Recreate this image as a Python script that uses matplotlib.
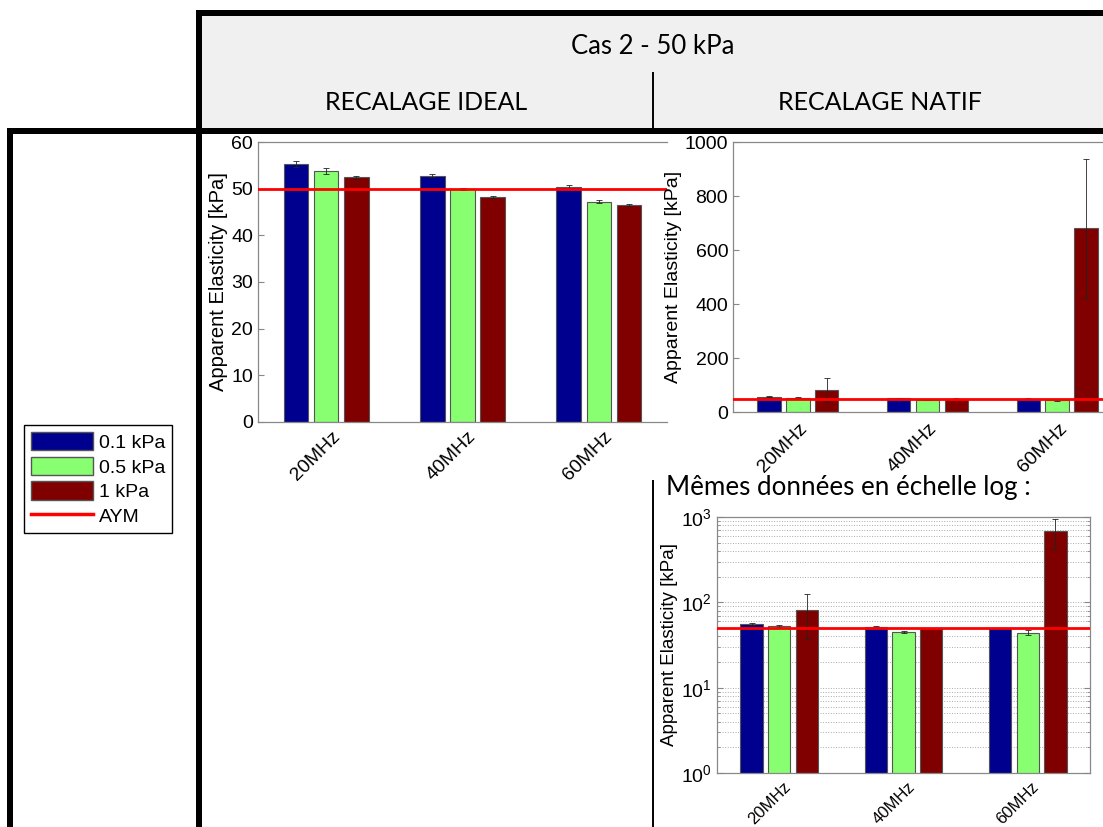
import numpy as np
import matplotlib
matplotlib.use("Agg")
import matplotlib.pyplot as plt
from matplotlib.patches import Patch, Rectangle
from matplotlib.lines import Line2D
from matplotlib.transforms import ScaledTranslation

# ---- data ----
freqs = ['20MHz', '40MHz', '60MHz']
series = ['0.1 kPa', '0.5 kPa', '1 kPa']
colors = ['#00008f', '#88ff70', '#800000']
aym = 50.0

# recalage ideal
ideal_mean = [[55.3, 52.8, 50.3],
              [53.8, 50.0, 47.2],
              [52.4, 48.2, 46.5]]
ideal_err = [[0.6, 0.3, 0.4],
             [0.6, 0.2, 0.3],
             [0.3, 0.2, 0.3]]

# recalage natif
natif_mean = [[56, 52, 50],
              [53, 45, 44],
              [81, 50, 680]]
natif_err = [[2, 0.5, 0.5],
             [1, 1, 3],
             [44, 0.5, 258]]

W, H = 1103, 827
fig = plt.figure(figsize=(W / 100, H / 100), dpi=100)
plt.rcParams['font.family'] = ['Liberation Sans', 'DejaVu Sans']


def fx(x):
    return x / W


def fy(y):
    return 1 - y / H


def add_ax(left, top, right, bottom):
    return fig.add_axes([fx(left), fy(bottom), (right - left) / W, (bottom - top) / H])


def bar_chart(ax, means, errs, label_dx, label_dy, ylab_size, lab_size=14):
    x = np.arange(1, len(freqs) + 1)
    offsets = [-0.222, 0.0, 0.222]
    for i in range(len(series)):
        ax.bar(x + offsets[i], means[i], width=0.18, color=colors[i],
               edgecolor='#555555', linewidth=0.8, zorder=2)
        ax.errorbar(x + offsets[i], means[i], yerr=errs[i], fmt='none',
                    ecolor='#222222', elinewidth=0.6, capsize=2.5, capthick=0.6, zorder=3)
    ax.axhline(aym, color='red', linewidth=2, zorder=4)
    ax.set_xlim(0.5, 3.5)
    ax.set_xticks(x)
    ax.set_xticklabels([])
    # rotated frequency labels, shifted like the original
    off = ScaledTranslation(label_dx / 100, -label_dy / 100, fig.dpi_scale_trans)
    for xi, name in zip(x, freqs):
        ax.text(xi, 0, name, rotation=45, ha='right', va='top', fontsize=lab_size,
                transform=ax.get_xaxis_transform() + off, clip_on=False)
    ax.set_ylabel('Apparent Elasticity [kPa]', fontsize=ylab_size, labelpad=2)
    ax.tick_params(direction='in', top=True, right=True, color='#888888',
                   length=4, labelsize=14, width=0.8)
    ax.tick_params(axis='x', length=0)
    for s in ax.spines.values():
        s.set_color('#888888')
        s.set_linewidth(0.9)


# ---- chart 1 : recalage ideal ----
ax1 = add_ax(258, 142, 667, 422)
bar_chart(ax1, ideal_mean, ideal_err, 17, 6, 14.5)
ax1.set_ylim(0, 60)
ax1.set_yticks(np.arange(0, 61, 10))
ax1.spines['right'].set_visible(False)
ax1.tick_params(right=False)

# ---- chart 2 : recalage natif ----
ax2 = add_ax(733, 142, 1122, 412)
bar_chart(ax2, natif_mean, natif_err, 13, 8, 14)
ax2.set_ylim(0, 1000)
ax2.set_yticks(np.arange(0, 1001, 200))

# ---- chart 3 : same data, log scale ----
ax3 = add_ax(717, 517, 1090, 773)
bar_chart(ax3, natif_mean, natif_err, 14, 6, 13.5, lab_size=12)
ax3.set_yscale('log')
ax3.set_ylim(1, 1000)
ax3.yaxis.grid(True, which='both', linestyle=':', color='#aaaaaa', linewidth=0.7, zorder=0)
ax3.set_axisbelow(True)
ax3.tick_params(which='minor', direction='in', right=True, color='#888888', length=2)

# ---- table frame ----
fig.patches.append(Rectangle((fx(202), fy(128)), fx(1103 - 202), (128 - 16) / H,
                             transform=fig.transFigure, facecolor='#f0f0f0',
                             edgecolor='none', zorder=-5))


def fline(x0, y0, x1, y1, lw):
    fig.add_artist(Line2D([fx(x0), fx(x1)], [fy(y0), fy(y1)], color='black',
                          linewidth=lw, solid_capstyle='butt', zorder=10))


thick = 6 * 72 / 100
fline(196, 13, 1103, 13, thick)
fline(199, 10, 199, 827, thick)
fline(7, 131, 1103, 131, thick)
fline(10, 128, 10, 827, thick)
fline(653, 72, 653, 128, 1.4)
fline(653, 480, 653, 827, 1.4)

hdr = ['Lato', 'DejaVu Sans']
fig.text(fx(653), fy(46), 'Cas 2 - 50 kPa', ha='center', va='center', fontsize=18.5, family=hdr)
fig.text(fx(426), fy(102), 'RECALAGE IDEAL', ha='center', va='center', fontsize=18, family=hdr)
fig.text(fx(880), fy(102), 'RECALAGE NATIF', ha='center', va='center', fontsize=18, family=hdr)
fig.text(fx(666), fy(487), 'Mêmes données en échelle log :', ha='left', va='center',
         fontsize=18.7, family=hdr)

# ---- legend ----
handles = [Patch(facecolor=c, edgecolor='#555555') for c in colors]
handles.append(Line2D([0], [0], color='red', linewidth=2.5))
fig.legend(handles, series + ['AYM'], loc='upper left',
           bbox_to_anchor=(fx(24), fy(425)), borderaxespad=0, fontsize=14,
           frameon=True, fancybox=False, edgecolor='black', framealpha=1,
           handlelength=3.2, handleheight=1.1, labelspacing=0.25,
           handletextpad=0.3, borderpad=0.35)

fig.savefig('out.png', dpi=100)
